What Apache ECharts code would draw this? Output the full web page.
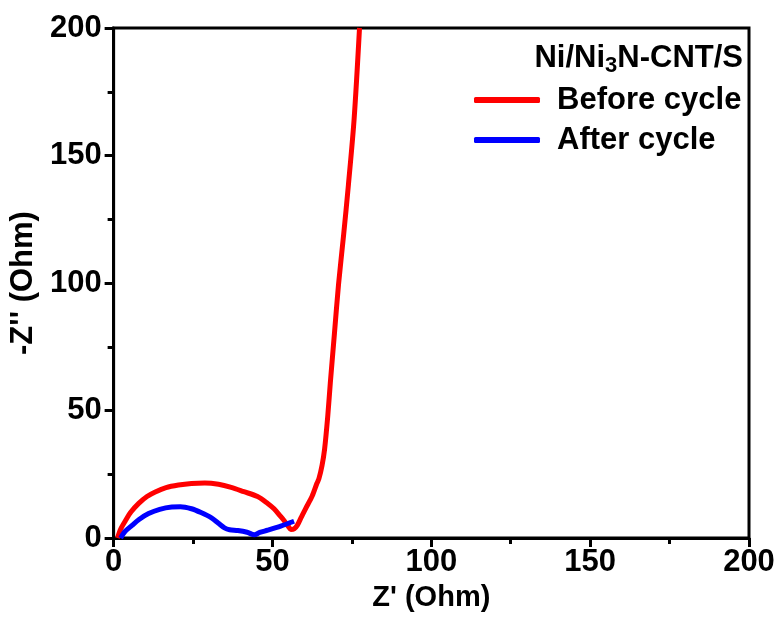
<!DOCTYPE html>
<html>
<head>
<meta charset="utf-8">
<script src="https://cdn.jsdelivr.net/npm/echarts@6/dist/echarts.min.js"></script>
<style>html,body{margin:0;padding:0;background:#fff;overflow:hidden;}#c{width:780px;height:617px;}</style>
</head>
<body>
<div id="c"></div>
<script>
// Z' (Ohm) , -Z'' (Ohm)
const beforeX = [1.2,2.2,3.7,5.5,7.9,10.5,13.1,16.5,20.4,24.5,28.7,33,37,41,45.3,48.5,50.5,52.5,53.7,55,55.8,56.8,57.8,59,60.4,62.5,64,64.6,65.6,66.4,67.4,68.2,69.5,70.8,72.4,73.9,75.7,77.4];
const beforeY = [0,3.5,6.8,10.3,13.6,16.3,18.1,19.8,20.8,21.4,21.6,21.1,19.9,18.2,16.3,13.6,11.5,8.6,6.8,4.6,3.4,3.6,5,8,11.5,16.5,21.5,23.2,28.5,34.8,47.8,60.7,80.1,99.5,118.9,138.4,164.3,200];
const afterX = [2.2,3.5,5.8,8,11,14.5,18.3,21,24.5,27.5,30.8,33,34.9,36.5,39.1,42,44.3,46,48.5,52.6,56.8];
const afterY = [0,2.5,5,7.3,9.6,11.3,12.2,12.3,11.5,10,7.9,5.8,4,3.3,3,2.3,1.3,2.2,3.1,4.7,6.6];
const seriesNames = ['Before cycle','After cycle'];
const legendTitle = 'Ni/Ni{sub|3}N-CNT/S';
const xName = "Z' (Ohm)";
const yName = "-Z'' (Ohm)";

const FONT = 'Liberation Sans';
const zip = (a,b) => a.map((v,i)=>[v,b[i]]);
const chart = echarts.init(document.getElementById('c'));
const axisCommon = {
  min: 0, max: 200, interval: 50,
  axisLine: {show: true, lineStyle: {color: '#000', width: 3}},
  axisTick: {show: true, inside: false, length: 9, lineStyle: {color: '#000', width: 3}},
  minorTick: {show: true, splitNumber: 2, length: 6, lineStyle: {color: '#000', width: 3}},
  splitLine: {show: false},
  axisLabel: {color: '#000', fontFamily: FONT, fontWeight: 'bold', fontSize: 31},
  nameLocation: 'middle',
  nameTextStyle: {color: '#000', fontFamily: FONT, fontWeight: 'bold', fontSize: 29}
};
chart.setOption({
  animation: false,
  backgroundColor: '#fff',
  grid: {left: 108, width: 641, top: 28, height: 515, show: true, borderColor: '#000', borderWidth: 3, backgroundColor: 'transparent'},
  title: {
    text: legendTitle,
    right: 37, top: 39, padding: 0,
    textStyle: {
      color: '#000', fontFamily: FONT, fontWeight: 'bold', fontSize: 31,
      rich: {sub: {fontSize: 22, fontFamily: FONT, fontWeight: 'bold', color: '#000', padding: [16,0,0,0]}}
    }
  },
  legend: {
    orient: 'vertical', left: 474, top: 84, itemGap: 8, padding: 0,
    itemWidth: 66, itemHeight: 6, icon: 'roundRect',
    textStyle: {color: '#000', fontFamily: FONT, fontWeight: 'bold', fontSize: 31, lineHeight: 32, padding: [0,0,0,12]},
    data: seriesNames
  },
  xAxis: Object.assign({}, axisCommon, {type: 'value', name: xName, nameGap: 42, axisLabel: Object.assign({}, axisCommon.axisLabel, {margin: 9})}),
  yAxis: Object.assign({}, axisCommon, {type: 'value', name: yName, nameGap: 61, nameTextStyle: Object.assign({}, axisCommon.nameTextStyle, {fontSize: 31}), axisLabel: Object.assign({}, axisCommon.axisLabel, {margin: 12})}),
  series: [
    {name: seriesNames[0], type: 'line', data: zip(beforeX, beforeY), showSymbol: false, smooth: 0.3, lineStyle: {color: '#ff0000', width: 5}, itemStyle: {color: '#ff0000'}, clip: true},
    {name: seriesNames[1], type: 'line', data: zip(afterX, afterY), showSymbol: false, smooth: 0.3, lineStyle: {color: '#0000ff', width: 5}, itemStyle: {color: '#0000ff'}, clip: true}
  ]
});
</script>
</body>
</html>
